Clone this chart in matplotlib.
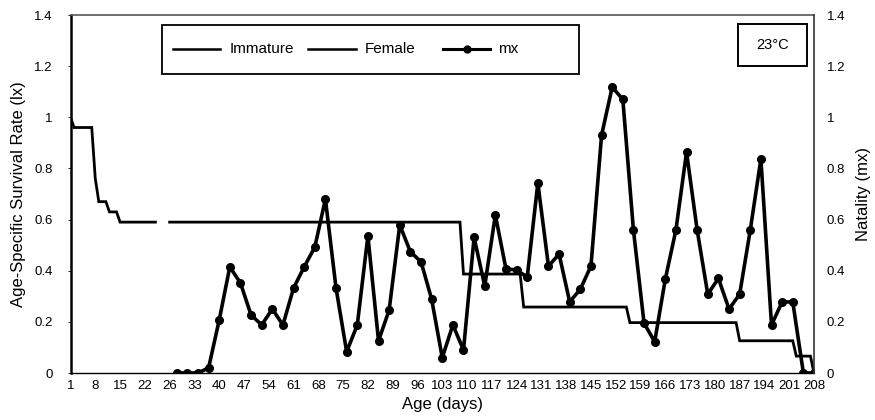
import matplotlib
matplotlib.use("Agg")
import matplotlib.pyplot as plt
from matplotlib.patches import Rectangle
from matplotlib.lines import Line2D

plt.rcParams['font.family'] = ['Liberation Sans', 'DejaVu Sans']

# x axis: category positions, one tick label every 7 positions
tick_labels = ['1', '8', '15', '22', '26', '33', '40', '47', '54', '61', '68', '75',
               '82', '89', '96', '103', '110', '117', '124', '131', '138', '145',
               '152', '159', '166', '173', '180', '187', '194', '201', '208']

# Immature survival (lx), by category position
immature_x = [0, 1, 6, 7, 8, 10, 11, 13, 14, 24]
immature_lx = [1.0, 0.96, 0.96, 0.76, 0.67, 0.67, 0.63, 0.63, 0.59, 0.59]

# Female survival (lx)
female_x = [28, 110, 111, 127, 128, 157, 158, 188, 189, 204, 205, 209, 210]
female_lx = [0.59, 0.59, 0.387, 0.387, 0.258, 0.258, 0.197, 0.197, 0.126, 0.126,
             0.066, 0.066, 0.0]

# Natality (mx)
mx_x = [30, 33, 36, 39, 42, 45, 48, 51, 54, 57, 60, 63, 66, 69, 72, 75, 78, 81, 84,
        87, 90, 93, 96, 99, 102, 105, 108, 111, 114, 117, 120, 123, 126, 129, 132,
        135, 138, 141, 144, 147, 150, 153, 156, 159, 162, 165, 168, 171, 174, 177,
        180, 183, 186, 189, 192, 195, 198, 201, 204, 207, 210]
mx = [0, 0, 0, 0.02, 0.207, 0.415, 0.352, 0.227, 0.188, 0.25, 0.188, 0.332, 0.415,
      0.492, 0.68, 0.332, 0.083, 0.188, 0.536, 0.126, 0.246, 0.579, 0.474, 0.435,
      0.289, 0.06, 0.188, 0.09, 0.53, 0.34, 0.618, 0.407, 0.403, 0.375, 0.743,
      0.418, 0.465, 0.278, 0.328, 0.418, 0.93, 1.118, 1.07, 0.559, 0.195, 0.122,
      0.367, 0.559, 0.864, 0.559, 0.308, 0.37, 0.25, 0.308, 0.559, 0.837, 0.188,
      0.278, 0.278, 0, 0]

y_ticks = [0, 0.2, 0.4, 0.6, 0.8, 1.0, 1.2, 1.4]
y_labels = ['0', '0.2', '0.4', '0.6', '0.8', '1', '1.2', '1.4']
legend_labels = ['Immature', 'Female', 'mx']

W, H = 875, 420
L, R, B, T = 70.5, 814, 373, 15
fig = plt.figure(figsize=(W / 100, H / 100), dpi=100)
ax = fig.add_axes([L / W, 1 - B / H, (R - L) / W, (B - T) / H])


def axx(px):
    return (px - L) / (R - L)


def axy(py):
    return (B - py) / (B - T)


ax.plot(immature_x, immature_lx, color='black', lw=2.0, solid_joinstyle='miter')
ax.plot(female_x, female_lx, color='black', lw=2.0, solid_joinstyle='miter')
ax.plot(mx_x, mx, color='black', lw=2.6, marker='o', markersize=5.5,
        markerfacecolor='black', markeredgecolor='black')

ax.set_xlim(0, 210)
ax.set_ylim(0, 1.4)
ax.set_xticks(range(0, 211, 7))
ax.set_xticklabels(tick_labels)
ax.set_yticks(y_ticks)
ax.set_yticklabels(y_labels)
ax.tick_params(axis='x', length=0, pad=5, labelsize=9.5)
ax.tick_params(axis='y', length=2, width=0.6, pad=11, labelsize=9.5, direction='out')

ax.spines['left'].set_linewidth(1.8)
ax.spines['bottom'].set_linewidth(1.0)
ax.spines['top'].set_linewidth(1.2)
ax.spines['top'].set_color('#555555')
ax.spines['right'].set_visible(False)

ax2 = ax.twinx()
ax2.set_ylim(0, 1.4)
ax2.set_yticks(y_ticks)
ax2.set_yticklabels(y_labels)
ax2.tick_params(axis='y', length=0, pad=9, labelsize=9.5)
for s in ['left', 'top', 'bottom']:
    ax2.spines[s].set_visible(False)
ax2.spines['right'].set_linewidth(1.2)
ax2.spines['right'].set_color('#333333')

ax.set_ylabel('Age-Specific Survival Rate (lx)', fontsize=12, labelpad=6)
ax2.set_ylabel('Natality (mx)', fontsize=12, labelpad=8)
ax.set_xlabel('Age (days)', fontsize=12, labelpad=4)

# legend frame and entries
ax.add_patch(Rectangle((axx(162), axy(74)), axx(579) - axx(162), axy(25) - axy(74),
                       transform=ax.transAxes, fill=False, edgecolor='black',
                       lw=1.3, zorder=5))
ly = axy(49)
entries = [(173, 220, 230), (308, 356, 365), (443, 490, 498)]
for i, (h0, h1, tx) in enumerate(entries):
    ln = Line2D([axx(h0), axx(h1)], [ly, ly], transform=ax.transAxes, color='black',
                lw=1.8 if i < 2 else 2.2, zorder=6)
    ax.add_line(ln)
    if i == 2:
        ax.add_line(Line2D([axx((h0 + h1) / 2)], [ly], transform=ax.transAxes,
                           marker='o', markersize=5, color='black', zorder=6))
    ax.text(axx(tx), ly, legend_labels[i], transform=ax.transAxes, ha='left',
            va='center', fontsize=11, zorder=6)

ax.add_patch(Rectangle((axx(738), axy(66)), axx(807) - axx(738), axy(24) - axy(66),
                       transform=ax.transAxes, fill=False, edgecolor='black',
                       lw=1.4, zorder=5))
ax.text(axx(772.5), axy(45), '23°C', transform=ax.transAxes, ha='center',
        va='center', fontsize=10.5)

fig.savefig('out.png', dpi=100)
